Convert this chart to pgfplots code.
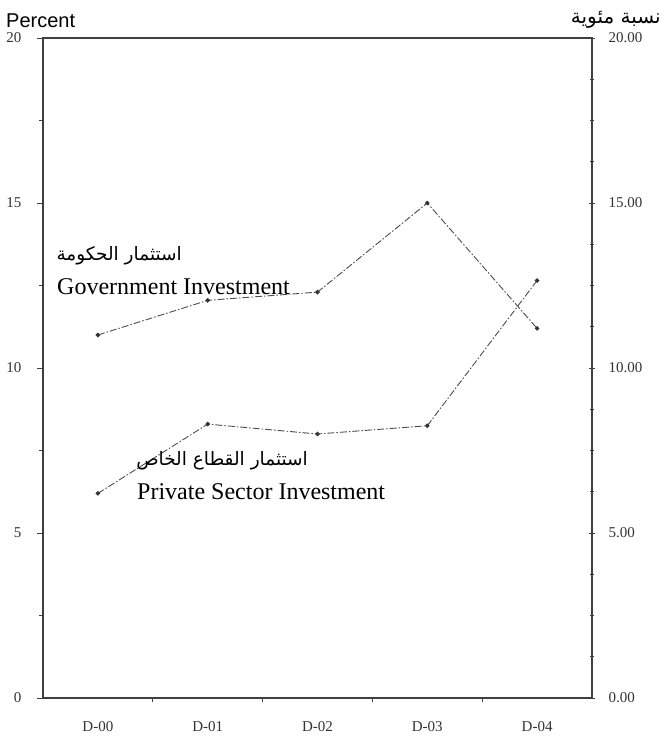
\documentclass[border=0pt]{standalone}
\usepackage{pgfplots}
\pgfplotsset{compat=1.18}
\usepackage{fontspec}
\setmainfont{Liberation Serif}
\newfontfamily\arialfont{Liberation Sans}
\newfontfamily\arabicfont[Script=Arabic]{DejaVu Sans}
\TeXXeTstate=1
\begin{document}
\begin{tikzpicture}[x=1pt,y=1pt]
\path[use as bounding box] (0,0) rectangle (666,740);
\pgfplotsset{
  common/.style={
    at={(43pt,42pt)}, anchor=south west,
    scale only axis, width=549pt, height=660pt,
    xmin=-0.5, xmax=4.5, ymin=0, ymax=20,
    axis line style={black!75, line width=1.2pt},
    every tick/.style={black!75, line width=0.8pt},
    major tick length=6pt, minor tick length=4pt,
    tick label style={font=\fontsize{15}{15}\selectfont, text=black!80},
    /pgf/number format/assume math mode=true,
  }
}
\begin{axis}[common,
  xtick={0,1,2,3,4},
  xticklabels={D-00,D-01,D-02,D-03,D-04},
  major x tick style={draw=none},
  minor xtick={0.5,1.5,2.5,3.5},
  xtick pos=bottom, ytick pos=left,
  tick align=outside,
  xticklabel style={yshift=-14pt},
  ytick={0,5,10,15,20},
  minor ytick={2.5,7.5,12.5,17.5},
  yticklabel style={xshift=-12pt},
]
\addplot[black!70, line width=0.9pt, dash pattern=on 7pt off 2pt on 1.5pt off 2pt,
  mark=*, mark size=1.8pt, mark options={solid, fill=black!80, draw=black!80}]
  coordinates {(0,11.0) (1,12.05) (2,12.3) (3,15.0) (4,11.2)};
\addplot[black!70, line width=0.9pt, dash pattern=on 7pt off 2pt on 1.5pt off 2pt,
  mark=*, mark size=1.8pt, mark options={solid, fill=black!80, draw=black!80}]
  coordinates {(0,6.2) (1,8.3) (2,8.0) (3,8.25) (4,12.65)};
\end{axis}
\begin{axis}[common,
  axis x line=none, axis y line*=right,
  ytick={0,5,10,15,20},
  minor y tick num=3,
  tick align=center,
  yticklabel style={xshift=10pt, /pgf/number format/.cd, fixed, fixed zerofill, precision=2},
]
\addplot[draw=none] coordinates {(0,0)};
\end{axis}
\node[anchor=base west, inner sep=0pt, font=\arialfont\fontsize{20}{20}\selectfont] at (6,712) {Percent};
\node[anchor=base east, inner sep=0pt, font=\arabicfont\fontsize{20}{20}\selectfont] at (661,716) {\beginR نسبة مئوية\endR};
\node[anchor=base east, inner sep=0pt, font=\arabicfont\fontsize{18.5}{18.5}\selectfont] at (182,479) {\beginR استثمار الحكومة\endR};
\node[anchor=base west, inner sep=0pt, font=\fontsize{24}{24}\selectfont] at (57,445) {Government Investment};
\node[anchor=base east, inner sep=0pt, font=\arabicfont\fontsize{18.5}{18.5}\selectfont] at (308,274) {\beginR استثمار القطاع الخاص\endR};
\node[anchor=base west, inner sep=0pt, font=\fontsize{24}{24}\selectfont] at (137,240) {Private Sector Investment};
\end{tikzpicture}
\end{document}
